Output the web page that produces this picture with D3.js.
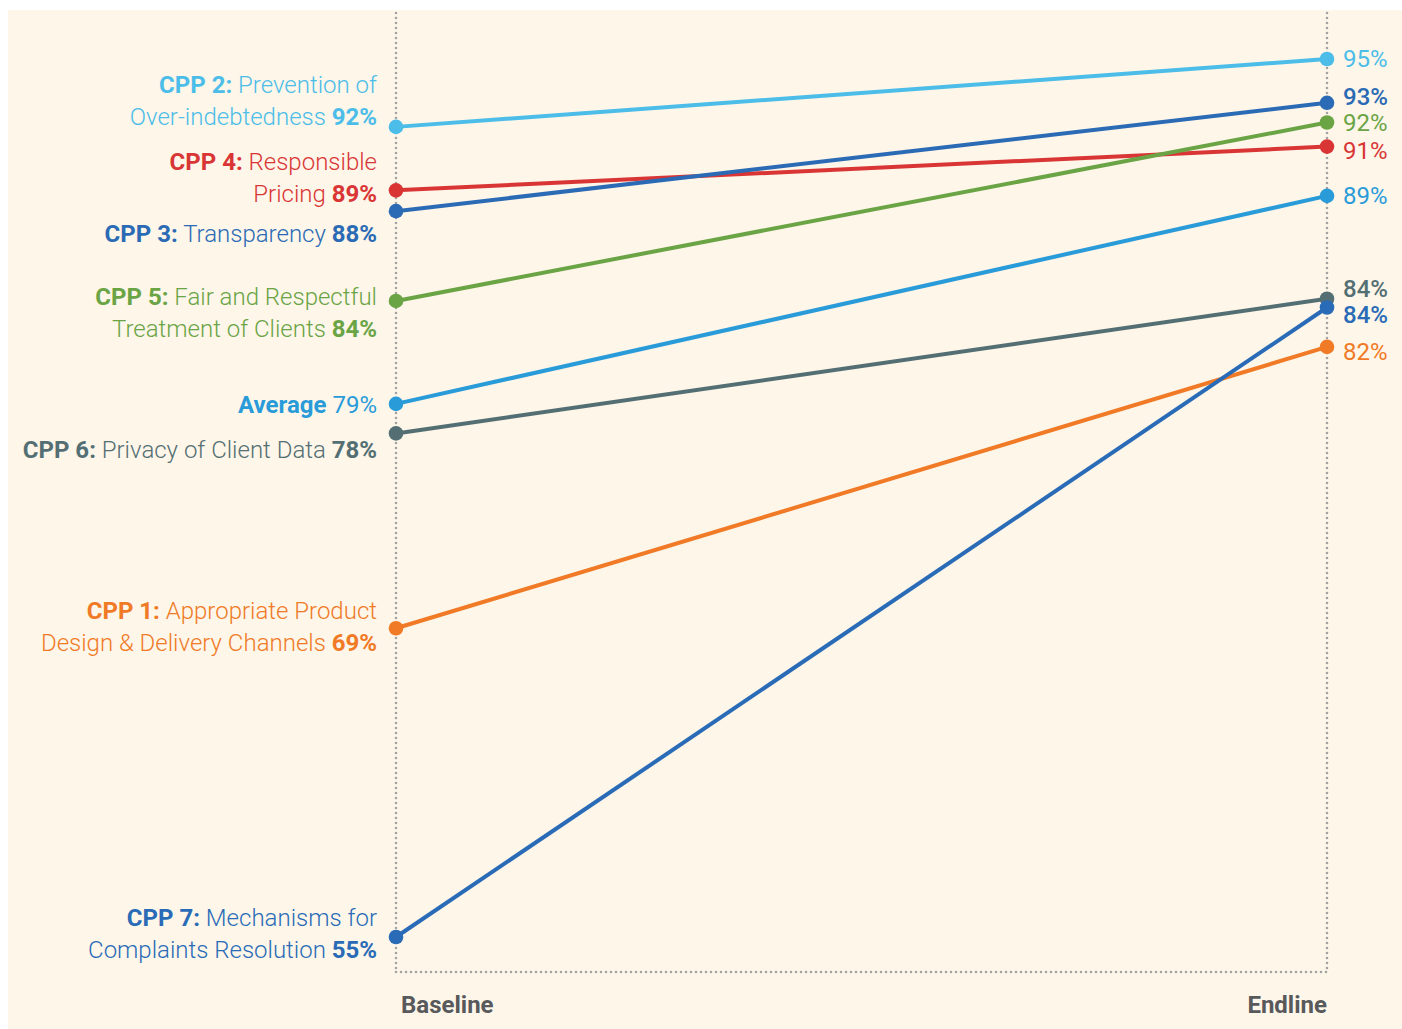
<!DOCTYPE html>
<html><head><meta charset="utf-8">
<script src="https://cdn.jsdelivr.net/npm/d3@7"></script>
<style>
html,body{margin:0;padding:0;background:#fff;}
svg{display:block;font-family:Roboto,"Noto Sans",sans-serif;}
</style></head>
<body>
<svg id="chart" width="1402" height="1029"></svg>
<script>
// ---- data ----
const seriesNames = ["CPP 2","CPP 4","CPP 3","CPP 5","Average","CPP 6","CPP 1","CPP 7"];
const seriesDescLine1 = ["Prevention of","Responsible","","Fair and Respectful","","","Appropriate Product","Mechanisms for"];
const seriesDescLine2 = ["Over-indebtedness","Pricing","Transparency","Treatment of Clients","","Privacy of Client Data","Design & Delivery Channels","Complaints Resolution"];
const baselineValues = [92.0, 89.1, 88.15, 84.05, 79.35, 78.0, 69.1, 55.0];
const endlineValues  = [95.1, 91.1, 93.1, 92.2, 88.85, 84.15, 81.95, 83.75];
const baselineLabels = ["92%","89%","88%","84%","79%","78%","69%","55%"];
const endlineLabels  = ["95%","91%","93%","92%","89%","84%","82%","84%"];
const periods = ["Baseline","Endline"];
const colors = ["#4cbde8","#d93535","#2b6ab4","#6aa445","#2a9bd9","#546f73","#f07a26","#2a6bb7"];

// ---- drawing ----
(function(){
const svg = d3.select("#chart");
svg.append("rect").attr("x",8).attr("y",10).attr("width",1394).attr("height",1019).attr("fill","#fdf6e9");

const x = d3.scalePoint().domain(periods).range([396,1327]);
const y = d3.scaleLinear().domain([55,95.1]).range([937,59]);

const gridColor = "#a3a3a3";
const yTop = 13, yBottom = 972;
periods.forEach(p=>{
  svg.append("line").attr("x1",x(p)).attr("x2",x(p)).attr("y1",yTop).attr("y2",yBottom)
    .attr("stroke",gridColor).attr("stroke-width",2.6).attr("stroke-dasharray","0,5").attr("stroke-linecap","round");
});
svg.append("line").attr("x1",x(periods[0])).attr("x2",x(periods[1])).attr("y1",yBottom).attr("y2",yBottom)
  .attr("stroke",gridColor).attr("stroke-width",2.6).attr("stroke-dasharray","0,5").attr("stroke-linecap","round");

const fs = 24, lh = 32;
svg.append("text").attr("x",x(periods[0])+5).attr("y",1013).text(periods[0])
  .attr("font-size",fs).attr("font-weight",700).attr("fill","#58595b");
svg.append("text").attr("x",x(periods[1])).attr("y",1013).attr("text-anchor","end").text(periods[1])
  .attr("font-size",fs).attr("font-weight",700).attr("fill","#58595b");

const idx = d3.range(seriesNames.length);
idx.forEach(i=>{
  svg.append("line")
    .attr("x1",x(periods[0])).attr("y1",y(baselineValues[i]))
    .attr("x2",x(periods[1])).attr("y2",y(endlineValues[i]))
    .attr("stroke",colors[i]).attr("stroke-width",4);
});
idx.forEach(i=>{
  svg.append("circle").attr("cx",x(periods[0])).attr("cy",y(baselineValues[i])).attr("r",7.3).attr("fill",colors[i]);
  svg.append("circle").attr("cx",x(periods[1])).attr("cy",y(endlineValues[i])).attr("r",7.3).attr("fill",colors[i]);
});

const lastLineDy = [-2, 12, 31, 36, 9, 25, 23, 21];
idx.forEach(i=>{
  const yb = y(baselineValues[i]) + lastLineDy[i];
  const lx = 377;
  const twoLines = seriesDescLine1[i] !== "";
  const isAvg = seriesNames[i] === "Average";
  if (twoLines) {
    const t1 = svg.append("text").attr("x",lx).attr("y",yb-lh).attr("text-anchor","end").attr("font-size",fs).attr("fill",colors[i]);
    t1.append("tspan").attr("font-weight",700).text(seriesNames[i]+":");
    t1.append("tspan").attr("font-weight",300).text(" "+seriesDescLine1[i]);
    const t2 = svg.append("text").attr("x",lx).attr("y",yb).attr("text-anchor","end").attr("font-size",fs).attr("fill",colors[i]);
    t2.append("tspan").attr("font-weight",300).text(seriesDescLine2[i]+" ");
    t2.append("tspan").attr("font-weight",700).text(baselineLabels[i]);
  } else if (isAvg) {
    const t = svg.append("text").attr("x",lx).attr("y",yb).attr("text-anchor","end").attr("font-size",fs).attr("fill",colors[i]);
    t.append("tspan").attr("font-weight",700).text(seriesNames[i]+" ");
    t.append("tspan").attr("font-weight",400).text(baselineLabels[i]);
  } else {
    const t = svg.append("text").attr("x",lx).attr("y",yb).attr("text-anchor","end").attr("font-size",fs).attr("fill",colors[i]);
    t.append("tspan").attr("font-weight",700).text(seriesNames[i]+":");
    t.append("tspan").attr("font-weight",300).text(" "+seriesDescLine2[i]+" ");
    t.append("tspan").attr("font-weight",700).text(baselineLabels[i]);
  }
});

const rightDy = [8, 12, 2, 9, 8, -2, 13, 15];
idx.forEach(i=>{
  const isBold = [2,5,7].includes(i);
  svg.append("text").attr("x",1343).attr("y",y(endlineValues[i]) + rightDy[i])
    .attr("font-size",fs).attr("font-weight", isBold?500:400).attr("fill",colors[i]).text(endlineLabels[i]);
});
})();
</script>
</body></html>
